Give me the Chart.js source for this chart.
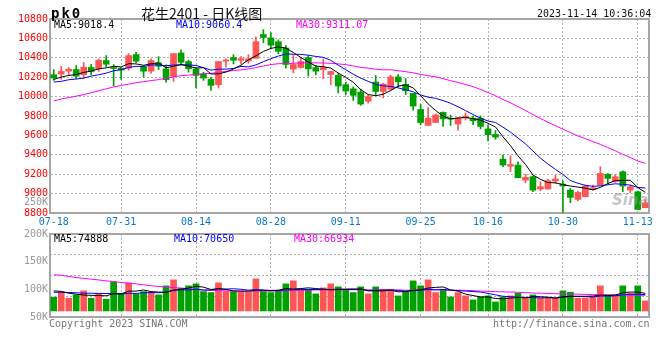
<!DOCTYPE html>
<html><head><meta charset="utf-8">
<script src="https://cdn.jsdelivr.net/npm/chart.js@4.4.0/dist/chart.umd.min.js"></script>
<style>
html,body{margin:0;padding:0;background:#fff;}
#wrap{position:relative;width:660px;height:360px;overflow:hidden;background:#fff;}
canvas{position:absolute;left:0;top:0;}
.t{position:absolute;white-space:nowrap;line-height:1;font-family:"DejaVu Sans Mono",monospace;font-size:10px;transform:translateY(-50%);}
</style></head>
<body><div id="wrap">
<canvas id="main" width="660" height="232" style="width:660px;height:232px"></canvas>
<canvas id="vol" width="660" height="360" style="width:660px;height:360px"></canvas>
<div class="t" style="left:51px;top:13px;font-size:14px;font-weight:bold;letter-spacing:2px;">pk0</div>
<div class="t" style="left:141px;top:13px;font-family:'Noto Sans CJK SC';font-size:14px;color:#111;">花生2401 - 日K线图</div>
<div class="t" style="left:537px;top:14px;color:#111;">2023-11-14 10:36:04</div>
<div class="t" style="left:54px;top:25px;color:#000;">MA5:9018.4</div>
<div class="t" style="left:176px;top:25px;color:#0000ff;">MA10:9060.4</div>
<div class="t" style="left:296px;top:25px;color:#ff00ff;">MA30:9311.07</div>
<div class="t" style="left:54px;top:239px;color:#000;">MA5:74888</div>
<div class="t" style="left:174px;top:239px;color:#0000ff;">MA10:70650</div>
<div class="t" style="left:294px;top:239px;color:#ff00ff;">MA30:66934</div>
<div class="t" style="left:24px;top:202px;color:#999;">250K</div>
<div class="t" style="left:612px;top:200px;font-family:'DejaVu Sans';font-size:15px;font-weight:bold;font-style:italic;color:rgba(150,150,150,0.55);">Sina</div>
<div class="t" style="left:49px;top:324px;color:#777;">Copyright 2023 SINA.COM</div>
<div class="t" style="left:493px;top:324px;color:#777;">http://finance.sina.com.cn</div>
</div>
<script>
const dates = ['07-18','07-19','07-20','07-21','07-24','07-25','07-26','07-27','07-28','07-31',
'08-01','08-02','08-03','08-04','08-07','08-08','08-09','08-10','08-11','08-14',
'08-15','08-16','08-17','08-18','08-21','08-22','08-23','08-24','08-25','08-28',
'08-29','08-30','08-31','09-01','09-04','09-05','09-06','09-07','09-08','09-11',
'09-12','09-13','09-14','09-15','09-18','09-19','09-20','09-21','09-22','09-25',
'09-26','09-27','09-28','10-09','10-10','10-11','10-12','10-13','10-16','10-17',
'10-18','10-19','10-20','10-23','10-24','10-25','10-26','10-27','10-30','10-31',
'11-01','11-02','11-03','11-06','11-07','11-08','11-09','11-10','11-13','11-14'];
const xTickLabels = ['07-18','07-31','08-14','08-28','09-11','09-25','10-16','10-30','11-13'];
const priceTicks = [8800,9000,9200,9400,9600,9800,10000,10200,10400,10600,10800];
const volLabelTicks = [50000,100000,150000,200000];

const open = [10225,10232,10262,10279,10225,10300,10286,10372,10300,10293,
10293,10433,10307,10262,10348,10286,10211,10450,10361,10286,
10235,10177,10123,10365,10402,10375,10368,10395,10640,10605,
10566,10501,10283,10300,10402,10300,10276,10228,10218,10123,
10080,10047,9953,10150,10053,10077,10203,10127,10033,9867,
9703,9733,9837,9777,9717,9780,9777,9777,9667,9610,
9355,9283,9294,9139,9174,9047,9047,9129,9098,9036,
8940,8968,9043,9088,9198,9122,9225,9036,9019,8854];
const high = [10279,10312,10300,10320,10351,10331,10389,10423,10330,10300,
10443,10457,10320,10389,10412,10327,10443,10481,10375,10293,
10252,10201,10361,10389,10433,10412,10433,10617,10690,10661,
10586,10525,10430,10406,10423,10320,10389,10259,10242,10150,
10100,10077,10017,10217,10137,10220,10227,10187,10033,9920,
9887,9820,9843,9810,9787,9833,9800,9800,9710,9650,
9397,9390,9328,9198,9184,9122,9150,9191,9132,9054,
9026,9088,9088,9277,9208,9198,9235,9088,9026,8940];
const low = [10167,10180,10225,10184,10184,10225,10259,10307,10110,10177,
10273,10351,10201,10242,10279,10150,10157,10327,10252,10089,
10167,10065,10089,10303,10337,10337,10344,10395,10555,10491,
10440,10293,10245,10293,10211,10225,10184,10123,10037,10020,
9960,9910,9933,10013,9987,10067,10100,10020,9860,9710,
9703,9733,9693,9703,9653,9760,9710,9667,9543,9560,
9277,9225,9163,9112,9019,9030,9047,9105,8805,8906,
8927,8968,9036,9088,9098,9115,9019,9009,8837,8854];
const close = [10191,10259,10283,10211,10303,10259,10375,10334,10290,10273,
10423,10365,10262,10372,10313,10174,10443,10354,10286,10218,
10191,10116,10361,10378,10375,10392,10389,10566,10610,10530,
10467,10331,10331,10361,10286,10262,10300,10259,10109,10058,
10013,9923,10000,10053,10130,10203,10153,10060,9903,9733,
9777,9810,9770,9767,9777,9800,9750,9693,9607,9583,
9294,9300,9163,9167,9036,9071,9132,9150,9078,8961,
9012,9078,9060,9208,9157,9174,9078,9071,8837,8906];

const ma5 = [10177,10201,10218,10228,10249,10263,10286,10296,10312,10306,
10339,10337,10323,10339,10347,10297,10313,10331,10314,10295,
10298,10233,10234,10253,10284,10324,10379,10420,10466,10497,
10512,10501,10454,10404,10356,10315,10308,10294,10243,10198,
10148,10072,10021,10009,10024,10062,10108,10120,10090,10010,
9925,9857,9799,9771,9780,9785,9773,9757,9725,9687,
9585,9495,9389,9301,9192,9147,9114,9111,9093,9078,
9067,9056,9038,9064,9103,9135,9135,9138,9063,9013];
const ma10 = [10150,10157,10174,10181,10191,10211,10225,10242,10266,10278,
10301,10312,10310,10326,10327,10318,10325,10327,10327,10321,
10298,10273,10283,10283,10290,10311,10306,10327,10360,10391,
10418,10440,10437,10435,10427,10414,10405,10374,10324,10277,
10231,10190,10157,10126,10111,10105,10090,10070,10050,10017,
9994,9982,9959,9931,9895,9855,9815,9778,9748,9733,
9685,9634,9573,9513,9439,9366,9305,9250,9197,9135,
9107,9085,9075,9079,9091,9101,9096,9088,9064,9058];
const ma30 = [9955,9975,9990,10005,10020,10040,10060,10080,10100,10115,
10128,10143,10155,10165,10175,10190,10205,10215,10222,10228,
10235,10240,10250,10260,10268,10275,10285,10300,10315,10330,
10339,10341,10343,10348,10348,10348,10346,10343,10337,10330,
10316,10301,10293,10282,10276,10277,10267,10257,10245,10229,
10215,10205,10185,10164,10145,10125,10103,10074,10041,10009,
9970,9936,9897,9857,9815,9775,9736,9700,9665,9629,
9595,9567,9536,9508,9475,9441,9405,9372,9336,9311];

const volume = [58800,80200,54500,68800,86000,54500,76000,50200,124700,76000,
120400,71700,83100,78800,68800,107500,133300,97400,107500,116100,
83100,78800,120400,83100,83100,80200,80200,137600,83100,78800,
86000,116100,129000,93100,93100,73100,98900,116100,103200,93100,
78800,103200,73100,103200,93100,93100,64500,83100,129000,107500,
133300,78800,93100,60200,78800,64500,47300,60200,64500,38700,
60200,64500,76000,54500,68800,54500,54500,54500,86000,80200,
54500,54500,60200,107500,68800,64500,107500,76000,107500,43000];
const vma5 = [86000,84000,76000,72000,68000,67000,66000,65000,74000,73000,
85000,85000,90000,83000,81000,79000,90000,93000,98000,106000,
102000,92000,96000,92000,86000,85000,85000,88000,88000,88000,
89000,96000,94000,96000,99000,96000,93000,91000,92000,92000,
93000,94000,86000,86000,86000,89000,82000,83000,88000,91000,
98000,101000,103000,90000,85000,72000,66000,60000,60000,53000,
52000,55000,58000,56000,62000,61000,59000,55000,61000,63000,
63000,63000,64000,68000,66000,68000,78000,81000,81000,75000];
const vma10 = [80000,80000,79000,78000,76000,76000,75000,75000,74000,72000,
76000,75000,78000,79000,78000,82000,87000,91000,90000,93000,
90000,90000,94000,94000,95000,93000,89000,92000,90000,87000,
87000,90000,91000,92000,92000,92000,93000,92000,93000,94000,
94000,93000,88000,89000,89000,90000,88000,85000,87000,88000,
93000,91000,92000,89000,87000,85000,83000,81000,75000,69000,
63000,61000,59000,58000,57000,56000,57000,56000,58000,62000,
62000,61000,60000,64000,64000,65000,69000,71000,72000,70000];
const vma30 = [155000,153000,148000,143000,140000,136000,133000,129000,126000,122000,
119000,116000,112000,108000,105000,102000,100000,98000,95000,92000,
89000,88000,87000,86000,85000,85000,85000,85000,85000,85000,
86000,87000,88000,89000,89000,90000,90000,90000,91000,91000,
91000,91000,90000,90000,90000,90000,90000,89000,89000,90000,
90000,90000,90000,89000,89000,88000,87000,85000,84000,83000,
82000,81000,80000,79000,77000,76000,75000,74000,73000,72000,
72000,71000,70000,70000,69000,69000,68000,68000,67000,67000];

const RED = '#ff5555', GREEN = '#00a000', FRAME = '#a6a6a6', GRID = '#b0b0b0';
const MONO = "'DejaVu Sans Mono', monospace";
const colors = close.map((c, i) => c >= open[i] ? RED : GREEN);
const labelSet = new Set(xTickLabels);
const vGrid = ctx => (ctx.index > 0 && labelSet.has(dates[ctx.index])) ? GRID : 'rgba(0,0,0,0)';
const line = (data, color, axis) => ({ type: 'line', data, borderColor: color, borderWidth: 1,
  pointRadius: 0, tension: 0, fill: false, order: 1, yAxisID: axis });
const frameAxis = (pos) => ({
  type: (pos === 'top') ? 'category' : 'linear', position: pos, display: true,
  min: (pos === 'top') ? undefined : 0, max: (pos === 'top') ? undefined : 1,
  grid: { display: false, drawTicks: false }, ticks: { display: false },
  border: { display: true, color: FRAME, width: 2 },
  afterFit: s => { if (pos === 'top') s.height = 0; else s.width = 0; }
});

new Chart(document.getElementById('main'), {
  type: 'bar',
  data: { labels: dates, datasets: [
    line(ma5, '#000000', 'y'), line(ma10, '#0000ff', 'y'), line(ma30, '#ff00ff', 'y'),
    { data: low.map((l, i) => [l, high[i]]), backgroundColor: colors, barThickness: 1, grouped: false, order: 3, yAxisID: 'y' },
    { data: open.map((o, i) => [o, close[i]]), backgroundColor: colors, barThickness: 6, minBarLength: 1, grouped: false, order: 2, yAxisID: 'y' }
  ]},
  options: {
    responsive: false, animation: false, devicePixelRatio: 1,
    layout: { padding: { left: 0, right: 11, top: 19, bottom: 0 } },
    plugins: { legend: { display: false }, tooltip: { enabled: false } },
    scales: {
      x: { type: 'category', offset: true,
        grid: { offset: false, color: vGrid, drawTicks: false, lineWidth: 1 },
        border: { display: true, color: FRAME, width: 2, dash: [2, 2] },
        ticks: { autoSkip: false, maxRotation: 0, minRotation: 0, padding: 3, color: '#0a78d2',
          font: { family: MONO, size: 10 },
          callback: (v, i) => labelSet.has(dates[i]) ? dates[i] : '' },
        afterFit: s => { s.height = 19; } },
      xt: frameAxis('top'),
      y: { type: 'linear', position: 'left', min: 8800, max: 10800,
        afterBuildTicks: s => { s.ticks = priceTicks.map(v => ({ value: v })); },
        grid: { color: GRID, drawTicks: false, lineWidth: 1 },
        border: { display: true, color: FRAME, width: 2, dash: [2, 2] },
        ticks: { color: '#ff0000', padding: 2, font: { family: MONO, size: 10 },
          callback: v => String(v) },
        afterFit: s => { s.width = 50; } },
      yr: frameAxis('right')
    }
  }
});

new Chart(document.getElementById('vol'), {
  type: 'bar',
  data: { labels: dates, datasets: [
    line(vma5, '#000000', 'y'), line(vma10, '#0000ff', 'y'), line(vma30, '#ff00ff', 'y'),
    { data: volume, backgroundColor: colors, barThickness: 6, grouped: false, order: 2, yAxisID: 'y' }
  ]},
  options: {
    responsive: false, animation: false, devicePixelRatio: 1,
    layout: { padding: { left: 0, right: 11, top: 234, bottom: 43 } },
    plugins: { legend: { display: false }, tooltip: { enabled: false } },
    scales: {
      x: { type: 'category', offset: true,
        grid: { offset: false, color: vGrid, drawTicks: false, lineWidth: 1 },
        border: { display: true, color: FRAME, width: 2, dash: [2, 2] },
        ticks: { display: false, autoSkip: false },
        afterFit: s => { s.height = 0; } },
      xt: frameAxis('top'),
      yl: { type: 'linear', position: 'left', min: 50000, max: 200000,
        afterBuildTicks: s => { s.ticks = volLabelTicks.map(v => ({ value: v })); },
        grid: { display: false, drawTicks: false },
        border: { display: true, color: FRAME, width: 2 },
        ticks: { color: '#999999', padding: 2, font: { family: MONO, size: 10 },
          callback: v => (v / 1000) + 'K' },
        afterFit: s => { s.width = 50; } },
      y: { type: 'linear', position: 'right', min: -26000, max: 330000,
        grid: { color: GRID, drawTicks: false, lineWidth: 1 },
        border: { display: true, color: FRAME, width: 2, dash: [2, 2] },
        ticks: { display: false, count: 5 },
        afterFit: s => { s.width = 0; } }
    }
  }
});
</script>
</body></html>
